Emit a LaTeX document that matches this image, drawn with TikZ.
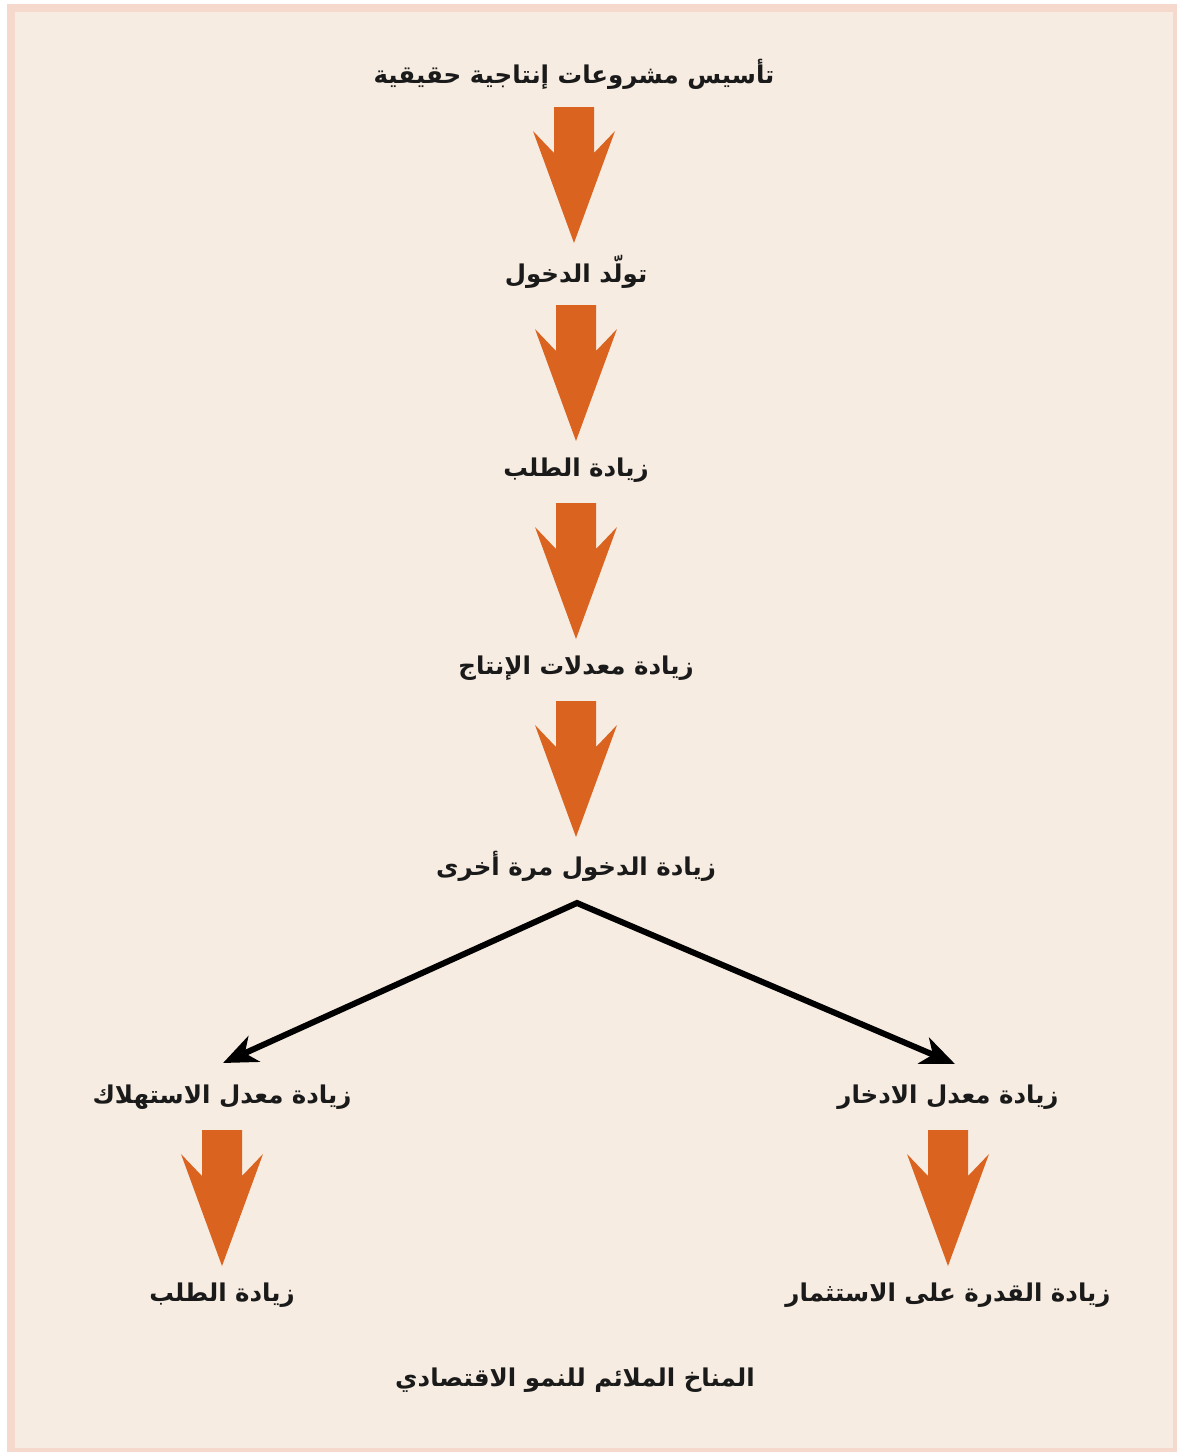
\documentclass[tikz,border=0pt]{standalone}
\usepackage{fontspec}
\newfontfamily\arabicfont[Script=Arabic]{DejaVu Sans}
\TeXXeTstate=1
\usetikzlibrary{arrows.meta,calc}
\definecolor{framepink}{HTML}{F6D9CD}
\definecolor{paper}{HTML}{F6ECE1}
\definecolor{flow}{HTML}{DA6320}
\definecolor{ink}{HTML}{1A1A1A}
\newcommand\artxt[1]{\arabicfont\bfseries\beginR #1\endR}
% broad orange block arrow hanging below a label
\newcommand\flowarrow[1]{%
  \fill[flow] ($(#1)+(0,33)$) ++(-20,0) -- ++(40,0) -- ++(0,46) -- ++(21,-22)
    -- ++(-41,112) -- ++(-41,-112) -- ++(21,22) -- cycle;}
\tikzset{
  lbl/.style={inner sep=0pt, text=ink, font=\fontsize{24.5}{29}\selectfont},
  split/.style={line width=6pt, draw=black, line join=miter,
    {Stealth[length=34pt,width=28pt,inset=10pt]}-{Stealth[length=34pt,width=28pt,inset=10pt]}}
}
\begin{document}
\begin{tikzpicture}[x=1pt,y=-1pt]
\useasboundingbox (0,0) rectangle (1177,1452);
\fill[white] (0,0) rectangle (1177,1452);
\fill[framepink] (7,4) rectangle (1177,1452);
\fill[paper] (15,12) rectangle (1173,1448);

\node[lbl] (n1) at (574,74) {\artxt{تأسيس مشروعات إنتاجية حقيقية}};
\node[lbl] (n2) at (576,272) {\artxt{تولّد الدخول}};
\node[lbl] (n3) at (576,470) {\artxt{زيادة الطلب}};
\node[lbl] (n4) at (576,668) {\artxt{زيادة معدلات الإنتاج}};
\node[lbl] (n5) at (576,866) {\artxt{زيادة الدخول مرة أخرى}};
\node[lbl] (l1) at (222,1097) {\artxt{زيادة معدل الاستهلاك}};
\node[lbl] (r1) at (948,1097) {\artxt{زيادة معدل الادخار}};
\node[lbl] (l2) at (222,1295) {\artxt{زيادة الطلب}};
\node[lbl] (r2) at (948,1295) {\artxt{زيادة القدرة على الاستثمار}};
\node[lbl] (cap) at (575,1380) {\artxt{المناخ الملائم للنمو الاقتصادي}};

\flowarrow{n1}
\flowarrow{n2}
\flowarrow{n3}
\flowarrow{n4}
\flowarrow{l1}
\flowarrow{r1}

\coordinate (fork) at ($(n5)+(1,37)$);
\coordinate (lend) at (223,1063);
\coordinate (rend) at (955,1064);
\draw[split] (lend) -- (fork) -- (rend);
\end{tikzpicture}
\end{document}
